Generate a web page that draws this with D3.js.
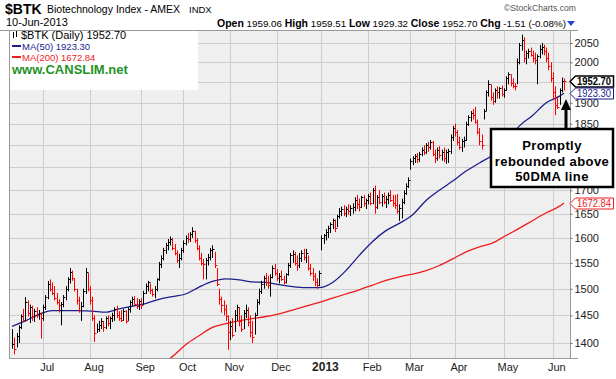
<!DOCTYPE html>
<html>
<head>
<meta charset="utf-8">
<title>$BTK Biotechnology Index</title>
<script src="https://d3js.org/d3.v7.min.js"></script>
<style>
  body { margin: 0; background: #fff; }
  text { font-family: "Liberation Sans", Arial, sans-serif; }
</style>
</head>
<body>
<div id="chart"></div>
<script>

// --- data ---
let holidays = ["2012-07-04", "2012-09-03", "2012-10-29", "2012-10-30", "2012-11-22",
    "2012-12-25", "2013-01-01", "2013-01-21", "2013-02-18", "2013-03-29", "2013-05-27"];

let highs = [1425,1410,1418,1432,1452,1462,1484,1478,1470,1468,1462,1465,1460,1455,
    1470,1488,1515,1518,1512,1505,1492,1480,1475,1488,1505,1522,1540,1535,1520,1500,1485,1475,1500,1540,1530,1505,1485,1450,
    1435,1440,1445,1440,1448,1450,1448,1455,1465,1468,1458,1460,1462,1460,1465,1478,1485,1486,1482,1480,
    1482,1496,1510,1515,1510,1500,1505,1520,1552,1565,1580,1590,1598,1603,1600,1588,1575,1568,1580,
    1595,1605,1610,1612,1622,1615,1600,1585,1570,1558,1560,1568,1580,1585,1572,1540,1500,1485,1478,1470,1450,
    1440,1445,1460,1470,1465,1450,1460,1470,1465,1450,1440,1455,1480,1500,1515,1525,1530,1525,1528,1545,1548,
    1538,1530,1535,1525,1530,1550,1570,1575,1572,1565,1570,1575,1578,1578,1565,1548,1540,1530,1520,1535,
    1605,1608,1618,1625,1632,1640,1638,1648,1662,1665,1668,1665,1670,1668,1672,1685,1690,1682,1688,1690,1682,
    1692,1695,1705,1710,1690,1700,1692,1695,1688,1695,1700,1690,1690,1692,1670,1682,1700,1715,1728,
    1770,1775,1780,1782,1785,1795,1800,1805,1808,1812,1810,1790,1795,1798,1790,1795,1790,1792,1825,1845,
    1850,1835,1820,1815,1820,1855,1870,1880,1885,1890,1860,1840,1825,1885,1930,1955,1945,1925,1935,1940,1938,1942,
    1935,1965,1975,1970,1960,1948,2010,2050,2072,2065,2030,2035,2038,2030,2025,2020,2045,2050,2045,2038,2025,2000,
    1975,1940,1915,1935,1962,1959.51];

let lows = [1390,1380,1392,1400,1425,1438,1440,1448,1436,1440,1438,1445,1442,1408,
    1440,1460,1480,1495,1488,1478,1470,1455,1432,1465,1478,1495,1510,1515,1495,1470,1455,1440,1465,1490,1495,1470,1440,1402,
    1418,1420,1425,1420,1425,1430,1425,1438,1440,1445,1440,1438,1440,1435,1440,1455,1468,1470,1462,1460,
    1462,1470,1490,1495,1490,1485,1482,1495,1515,1540,1555,1568,1575,1585,1575,1565,1550,1540,1555,
    1570,1585,1590,1592,1600,1590,1575,1555,1545,1518,1518,1545,1555,1560,1540,1505,1470,1455,1450,1440,1388,
    1405,1410,1420,1440,1430,1420,1425,1445,1430,1410,1400,1415,1450,1470,1490,1500,1505,1500,1485,1520,1525,
    1515,1510,1515,1508,1510,1525,1540,1550,1545,1535,1540,1552,1555,1550,1535,1525,1515,1505,1500,1505,
    1575,1588,1595,1600,1610,1618,1612,1622,1640,1645,1645,1643,1648,1645,1650,1655,1660,1655,1662,1665,1660,
    1670,1668,1670,1650,1660,1670,1665,1670,1662,1670,1675,1665,1660,1650,1635,1640,1670,1690,1705,
    1745,1755,1760,1760,1762,1775,1778,1780,1785,1790,1775,1760,1765,1770,1765,1762,1758,1760,1780,1810,
    1820,1800,1790,1785,1795,1810,1845,1855,1860,1850,1825,1800,1790,1860,1880,1915,1905,1895,1900,1910,1910,1915,
    1912,1930,1945,1940,1935,1930,1945,1995,2030,2000,1995,2010,2015,2000,1995,1945,2010,2020,2018,2000,1980,1950,
    1910,1870,1885,1895,1925,1929.32];

let closes = [1398,1390,1412,1428,1448,1442,1475,1455,1465,1448,1458,1450,1455,1445,
    1465,1485,1510,1500,1492,1482,1475,1470,1472,1485,1500,1518,1532,1520,1500,1478,1460,1468,1495,1532,1500,1478,1445,1418,
    1425,1432,1440,1428,1445,1436,1446,1450,1462,1450,1445,1442,1458,1440,1462,1475,1480,1472,1468,1476,
    1470,1492,1505,1512,1498,1490,1500,1518,1548,1560,1575,1585,1592,1598,1580,1570,1555,1560,1575,
    1590,1600,1598,1608,1615,1595,1580,1560,1550,1548,1555,1562,1575,1578,1545,1510,1480,1470,1462,1448,1420,
    1430,1415,1450,1465,1440,1425,1455,1460,1438,1420,1410,1450,1475,1495,1510,1520,1512,1508,1522,1540,1530,
    1520,1525,1518,1512,1528,1545,1565,1568,1550,1545,1560,1570,1562,1570,1540,1530,1525,1512,1508,1530,
    1600,1605,1612,1620,1628,1636,1620,1645,1655,1660,1652,1660,1655,1662,1665,1680,1670,1665,1685,1672,1678,
    1688,1672,1700,1665,1685,1675,1688,1675,1682,1690,1680,1672,1668,1655,1662,1675,1695,1710,1722,
    1765,1770,1775,1768,1780,1790,1785,1800,1795,1808,1780,1770,1790,1778,1785,1770,1785,1788,1820,1840,
    1830,1808,1795,1810,1812,1850,1865,1875,1870,1855,1830,1810,1800,1880,1925,1945,1915,1905,1930,1925,1935,1920,
    1930,1960,1970,1948,1942,1940,2000,2045,2058,2010,2025,2030,2020,2010,2005,2015,2035,2040,2030,2010,1990,1960,
    1925,1895,1890,1930,1954,1952.70];

let ma50Idx = [0,6,12,18,24,30,36,42,48,54,60,66,72,78,84,90,96,102,108,114,120,126,132,138,
    144,150,156,162,168,174,180,186,192,198,204,210,216,222,228,234,240,246,248];
let ma50 = [1430,1440,1452,1459,1459,1459,1458,1456,1462,1467,1472,1480,1485,1490,1503,1514,1519,1517,
    1513,1512,1508,1504,1502,1502,1512,1535,1565,1593,1615,1630,1648,1678,1700,1720,1742,1760,1778,
    1808,1845,1870,1900,1916,1923.30];

let ma200Idx = [66,72,78,84,90,96,102,108,114,120,126,132,138,144,150,156,162,168,174,180,186,
    192,198,204,210,216,222,228,234,240,246,248];
let ma200 = [1360,1376,1397,1413,1428,1435,1440,1444,1448,1453,1460,1467,1474,1482,1490,1498,1507,
    1516,1523,1528,1535,1545,1558,1572,1582,1590,1605,1620,1636,1652,1666,1672.84];

let yTicks = [1400,1450,1500,1550,1600,1650,1700,1750,1800,1850,1900,1950,2000,2050];
let hiddenTickLabels = [1750, 1800, 1950];   // covered by the note box / close tag
let monthLabels = ["Jul","Aug","Sep","Oct","Nov","Dec","2013","Feb","Mar","Apr","May","Jun"];
let noteLines = ["Promptly", "rebounded above", "50DMA line"];

// trading days Jun 12 2012 .. Jun 10 2013
let fmt = d3.timeFormat("%Y-%m-%d");
let days = [];
for (let d = new Date(2012, 5, 12); d <= new Date(2013, 5, 10); d.setDate(d.getDate() + 1)) {
    let wd = d.getDay();
    if (wd > 0 && wd < 6 && holidays.indexOf(fmt(d)) < 0) days.push(new Date(d));
}
let monthStarts = [];
days.forEach(function(d, i) {
    if (i > 0 && d.getMonth() != days[i - 1].getMonth()) monthStarts.push(i);
});

// --- layout ---
let plot = {left: 9, right: 570, top: 30, bottom: 358};

let svg = d3.select("#chart")
    .append("svg")
    .attr("width", 616)
    .attr("height", 379);

let x = d3.scaleLinear()
    .domain([0, closes.length - 1])
    .range([12.1, 564]);

let y = d3.scaleLog()
    .domain([1373.6, 2084])
    .range([plot.bottom, plot.top]);

let px = function(i) { return Math.round(x(i)) + 0.5; };

svg.append("defs").append("clipPath").attr("id", "clip")
    .append("rect")
    .attr("x", plot.left).attr("y", plot.top)
    .attr("width", plot.right - plot.left).attr("height", plot.bottom - plot.top);

svg.append("rect")
    .attr("x", plot.left).attr("y", plot.top)
    .attr("width", plot.right - plot.left).attr("height", plot.bottom - plot.top)
    .attr("fill", "#efefef");

// grid
svg.append("g").selectAll("line")
    .data(yTicks)
    .enter()
    .append("line")
    .attr("x1", plot.left).attr("x2", plot.right)
    .attr("y1", function(d) { return Math.round(y(d)) + 0.5; })
    .attr("y2", function(d) { return Math.round(y(d)) + 0.5; })
    .attr("stroke", "#cdcdcd");

svg.append("g").selectAll("line")
    .data(monthStarts)
    .enter()
    .append("line")
    .attr("x1", px).attr("x2", px)
    .attr("y1", plot.top).attr("y2", plot.bottom)
    .attr("stroke", "#cdcdcd");

// legend box
svg.append("rect")
    .attr("x", plot.left + 1).attr("y", plot.top + 1)
    .attr("width", 188).attr("height", 59)
    .attr("fill", "#fff");

let chart = svg.append("g").attr("clip-path", "url(#clip)");

// moving averages
let maLine = d3.line().curve(d3.curveMonotoneX);

chart.append("path")
    .attr("d", maLine(ma200Idx.map(function(d, k) { return [x(d), y(ma200[k])]; })))
    .attr("fill", "none")
    .attr("stroke", "#ee1c1c")
    .attr("stroke-width", 1.3);

chart.append("path")
    .attr("d", maLine(ma50Idx.map(function(d, k) { return [x(d), y(ma50[k])]; })))
    .attr("fill", "none")
    .attr("stroke", "#1d1d8e")
    .attr("stroke-width", 1.3);

// HLC bars
let barColor = function(i) {
    return (i > 0 && closes[i] < closes[i - 1]) ? "#f00" : "#000";
};
let bars = chart.append("g").selectAll("g")
    .data(closes)
    .enter()
    .append("g")
    .attr("stroke", function(d, i) { return barColor(i); });

bars.append("line")
    .attr("x1", function(d, i) { return px(i); })
    .attr("x2", function(d, i) { return px(i); })
    .attr("y1", function(d, i) { return y(highs[i]); })
    .attr("y2", function(d, i) { return y(lows[i]); });

bars.append("line")
    .attr("x1", function(d, i) { return px(i); })
    .attr("x2", function(d, i) { return px(i) + 2; })
    .attr("y1", function(d) { return Math.round(y(d)) + 0.5; })
    .attr("y2", function(d) { return Math.round(y(d)) + 0.5; });

// frame
svg.append("rect")
    .attr("x", plot.left + 0.5).attr("y", plot.top + 0.5)
    .attr("width", plot.right - plot.left).attr("height", plot.bottom - plot.top)
    .attr("fill", "none")
    .attr("stroke", "#9a9a9a");
svg.append("line")
    .attr("x1", 0).attr("x2", 578)
    .attr("y1", plot.top + 0.5).attr("y2", plot.top + 0.5)
    .attr("stroke", "#9a9a9a");
svg.append("line")
    .attr("x1", plot.right).attr("x2", 578)
    .attr("y1", plot.bottom + 0.5).attr("y2", plot.bottom + 0.5)
    .attr("stroke", "#9a9a9a");

// right axis
let yAxis = svg.append("g")
    .attr("transform", "translate(" + (plot.right + 0.5) + ",0)")
    .call(d3.axisRight(y).tickValues(yTicks).tickSize(2).tickPadding(2)
        .tickFormat(function(d) { return hiddenTickLabels.indexOf(d) < 0 ? d3.format("d")(d) : ""; }));
yAxis.select(".domain").remove();
yAxis.selectAll("line").attr("stroke", "#666");
yAxis.selectAll("text")
    .attr("font-size", "11px")
    .attr("font-family", "Liberation Sans, Arial, sans-serif")
    .attr("fill", "#222");

// month labels
svg.append("g").selectAll("text")
    .data(monthStarts)
    .enter()
    .append("text")
    .attr("x", function(d) { return x(d) + 4; })
    .attr("y", 371)
    .attr("text-anchor", "middle")
    .attr("font-size", function(d, k) { return monthLabels[k] == "2013" ? "12px" : "11px"; })
    .attr("font-weight", function(d, k) { return monthLabels[k] == "2013" ? "bold" : "normal"; })
    .attr("fill", "#222")
    .text(function(d, k) { return monthLabels[k]; });

// header
svg.append("text").attr("x", 5).attr("y", 14)
    .attr("font-size", "14px").attr("font-weight", "bold").text("$BTK");
svg.append("text").attr("x", 47).attr("y", 13)
    .attr("font-size", "10.5px").text("Biotechnology Index - AMEX");
svg.append("text").attr("x", 189).attr("y", 13)
    .attr("font-size", "9.5px").text("INDX");
svg.append("text").attr("x", 504).attr("y", 11)
    .attr("font-size", "9.5px").attr("fill", "#555")
    .attr("textLength", 72).attr("lengthAdjust", "spacingAndGlyphs")
    .text("\u00a9StockCharts.com");
svg.append("text").attr("x", 6).attr("y", 26)
    .attr("font-size", "11px").text("10-Jun-2013");

let quote = [["Open", " 1959.06 "], ["High", " 1959.51 "], ["Low", " 1929.32 "],
    ["Close", " 1952.70 "], ["Chg", " -1.51 (-0.08%)"]];
let qt = svg.append("text").attr("x", 217).attr("y", 26.5)
    .attr("font-size", "9.8px");
quote.forEach(function(q) {
    qt.append("tspan").attr("font-weight", "bold").attr("font-size", "10.5px").text(q[0]);
    qt.append("tspan").text(q[1]);
});
svg.append("path")
    .attr("d", "M567,21L575,21L571,26Z")
    .attr("fill", "#1f45d6");

// legend
svg.append("g").attr("stroke", "#000").selectAll("line")
    .data([[13, 32, 38], [16, 31, 37]])
    .enter().append("line")
    .attr("x1", function(d) { return d[0] + 0.5; }).attr("x2", function(d) { return d[0] + 0.5; })
    .attr("y1", function(d) { return d[1]; }).attr("y2", function(d) { return d[2]; });
svg.append("text").attr("x", 21).attr("y", 39)
    .attr("font-family", "DejaVu Sans").attr("font-size", "11px")
    .text("$BTK (Daily) 1952.70");
svg.append("line").attr("x1", 12).attr("x2", 21).attr("y1", 46).attr("y2", 46)
    .attr("stroke", "#1d1d8e").attr("stroke-width", 2);
svg.append("text").attr("x", 22).attr("y", 49.5)
    .attr("font-family", "DejaVu Sans").attr("font-size", "9.5px").attr("fill", "#1d1d8e")
    .text("MA(50) 1923.30");
svg.append("line").attr("x1", 12).attr("x2", 21).attr("y1", 57).attr("y2", 57)
    .attr("stroke", "#ee1c1c").attr("stroke-width", 2);
svg.append("text").attr("x", 22).attr("y", 60.5)
    .attr("font-family", "DejaVu Sans").attr("font-size", "9.5px").attr("fill", "#ee1c1c")
    .text("MA(200) 1672.84");
svg.append("text").attr("x", 12).attr("y", 74)
    .attr("font-size", "13px").attr("font-weight", "bold").attr("fill", "#1f9226")
    .text("www.CANSLIM.net");

// price tags
let tags = [
    {v: closes[closes.length - 1], c: "#000", bold: true},
    {v: ma50[ma50.length - 1], c: "#1d1d8e", bold: false},
    {v: ma200[ma200.length - 1], c: "#ee1c1c", bold: false}
];
tags.forEach(function(t) {
    let yc = Math.round(y(t.v)) + 0.5;
    svg.append("path")
        .attr("d", "M" + (plot.right) + "," + yc + "L575.5," + (yc - 5.5) + "L613.5," + (yc - 5.5) +
            "L613.5," + (yc + 5.5) + "L575.5," + (yc + 5.5) + "Z")
        .attr("fill", "#fff")
        .attr("stroke", t.c)
        .attr("stroke-width", t.bold ? 1.5 : 1);
    svg.append("text").attr("x", 577).attr("y", yc + 3.5)
        .attr("font-size", "10px")
        .attr("font-weight", t.bold ? "bold" : "normal")
        .attr("fill", t.c)
        .attr("textLength", 34).attr("lengthAdjust", "spacingAndGlyphs")
        .text(d3.format(".2f")(t.v));
});

// annotation
svg.append("rect")
    .attr("x", 491).attr("y", 129).attr("width", 122).attr("height", 58)
    .attr("fill", "#fff").attr("stroke", "#000").attr("stroke-width", 2.5);
svg.append("g").selectAll("text")
    .data(noteLines)
    .enter()
    .append("text")
    .attr("x", 552)
    .attr("y", function(d, k) { return 150 + k * 15.5; })
    .attr("text-anchor", "middle")
    .attr("font-size", "13px")
    .attr("font-weight", "bold")
    .attr("letter-spacing", "0.4px")
    .text(function(d) { return d; });
svg.append("line")
    .attr("x1", 566).attr("x2", 566).attr("y1", 128).attr("y2", 108)
    .attr("stroke", "#000").attr("stroke-width", 3);
svg.append("path")
    .attr("d", "M566,99L571,110L561,110Z")
    .attr("fill", "#000");

</script>
</body>
</html>
